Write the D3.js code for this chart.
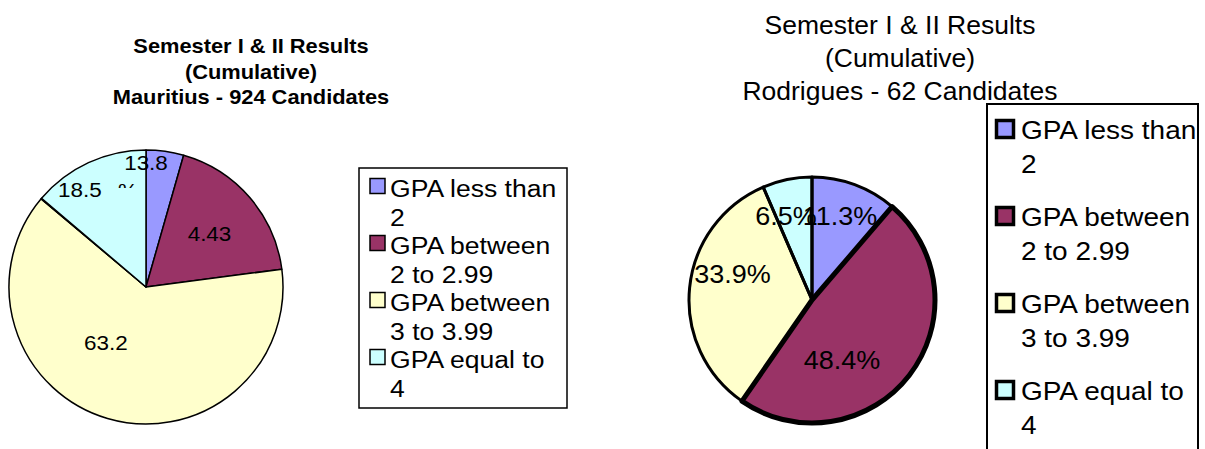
<!DOCTYPE html>
<html>
<head>
<meta charset="utf-8">
<script src="https://cdn.jsdelivr.net/npm/d3@7"></script>
<style>
  body { margin: 0; background: #fff; }
  text { font-family: "Liberation Sans", Arial, sans-serif; fill: #000; }
</style>
</head>
<body>
<div id="chart"></div>
<script>
  // Categories and colours (shared by both pies)
  const categories = ["GPA less than 2", "GPA between 2 to 2.99", "GPA between 3 to 3.99", "GPA equal to 4"];
  const legendLines = [["GPA less than", "2"], ["GPA between", "2 to 2.99"], ["GPA between", "3 to 3.99"], ["GPA equal to", "4"]];
  const catColors = ["#9999FF", "#993366", "#FFFFCC", "#CCFFFF"];

  // Mauritius: one tiny unnamed slice sits between the 3rd and 4th categories
  const mauritiusValues = [4.43, 18.5, 63.2, 0.07, 13.8];
  const mauritiusColors = ["#9999FF", "#993366", "#FFFFCC", "#999999", "#CCFFFF"];
  const mauritiusLabels = ["4.43", "18.5", "63.2", "", "13.8"];

  // Rodrigues
  const rodriguesValues = [11.3, 48.4, 33.9, 6.5];
  const rodriguesLabels = ["11.3%", "48.4%", "33.9%", "6.5%"];

  const leftTitle = ["Semester I & II Results", "(Cumulative)", "Mauritius - 924 Candidates"];
  const rightTitle = ["Semester I & II Results", "(Cumulative)", "Rodrigues - 62 Candidates"];

  // Label placement (angle in degrees, fraction of radius) - how the original file spread them
  const leftLabelSpots = [[49.9, 0.606], [325.9, 0.86], [215.8, 0.5], [0, 0], [0, 0.909]];
  const rightLabelSpots = [[18.4, 0.72], [153.4, 0.545], [288.1, 0.68], [342.8, 0.715]];

  const W = 1205, H = 449;
  const svg = d3.select("#chart").append("svg")
    .attr("width", W).attr("height", H);

  const pie = d3.pie().sort(null).value(d => d);

  function polar(cx, cy, r, deg) {
    const a = deg * Math.PI / 180;
    return [cx + r * Math.sin(a), cy - r * Math.cos(a)];
  }

  function stretchText(g, x, y, str, size, sx, anchor, weight) {
    return g.append("text")
      .attr("transform", `translate(${x},${y}) scale(${sx},1)`)
      .attr("text-anchor", anchor)
      .attr("font-size", size)
      .attr("font-weight", weight || "normal")
      .text(str);
  }

  // ---------- left pie (Mauritius) ----------
  const L = { cx: 146, cy: 287, r: 137 };
  const arcL = d3.arc().innerRadius(0).outerRadius(L.r);
  const gL = svg.append("g").attr("transform", `translate(${L.cx},${L.cy})`);
  const arcsL = pie(mauritiusValues);

  gL.selectAll("path.slice")
    .data(arcsL)
    .enter()
    .append("path")
    .attr("class", "slice")
    .attr("d", arcL)
    .attr("fill", (d, i) => mauritiusColors[i])
    .attr("stroke", "#000")
    .attr("stroke-width", 1.5)
    .attr("stroke-linejoin", "round");

  mauritiusLabels.forEach(function (t, i) {
    if (!t) return;
    const p = polar(L.cx, L.cy, L.r * leftLabelSpots[i][1], leftLabelSpots[i][0]);
    stretchText(svg, p[0], p[1] + 7.5, t, 21, 1.07, "middle");
  });

  // clipped second line of the top label
  svg.append("clipPath").attr("id", "pctClip")
    .append("rect").attr("x", 118).attr("y", 182).attr("width", 22).attr("height", 6);
  stretchText(svg.append("g").attr("clip-path", "url(#pctClip)"), 128, 198, "%", 21, 1.07, "middle");

  leftTitle.forEach(function (t, i) {
    stretchText(svg, 251, 53 + i * 25.5, t, 21, 1.04, "middle", "bold");
  });

  // left legend
  svg.append("rect")
    .attr("x", 359).attr("y", 168).attr("width", 208).attr("height", 240)
    .attr("fill", "#fff").attr("stroke", "#000").attr("stroke-width", 1.5);
  legendLines.forEach(function (lines, i) {
    const y0 = 197 + i * 57;
    svg.append("rect")
      .attr("x", 370).attr("y", y0 - 18.5).attr("width", 15).attr("height", 15)
      .attr("fill", catColors[i]).attr("stroke", "#000").attr("stroke-width", 1.5);
    stretchText(svg, 390, y0, lines[0], 23.5, 1.13, "start");
    stretchText(svg, 390, y0 + 28.5, lines[1], 23.5, 1.13, "start");
  });

  // ---------- right pie (Rodrigues) ----------
  const R = { cx: 812, cy: 300, r: 123 };
  const arcR = d3.arc().innerRadius(0).outerRadius(R.r);
  const gR = svg.append("g").attr("transform", `translate(${R.cx},${R.cy})`);
  const arcsR = pie(rodriguesValues);

  gR.selectAll("path.fill")
    .data(arcsR)
    .enter()
    .append("path")
    .attr("class", "fill")
    .attr("d", arcR)
    .attr("fill", (d, i) => catColors[i]);

  rodriguesLabels.forEach(function (t, i) {
    const p = polar(R.cx, R.cy, R.r * rightLabelSpots[i][1], rightLabelSpots[i][0]);
    stretchText(svg, p[0], p[1] + 9, t, 25, 1.08, "middle");
  });

  // outlines drawn on top of the labels (hides the dot of 6.5%)
  const gRo = svg.append("g").attr("transform", `translate(${R.cx},${R.cy})`);
  gRo.selectAll("path.edge")
    .data(arcsR)
    .enter()
    .append("path")
    .attr("class", "edge")
    .attr("d", arcR)
    .attr("fill", "none")
    .attr("stroke", "#000")
    .attr("stroke-width", 3)
    .attr("stroke-linejoin", "round");
  gRo.append("path")
    .attr("d", arcR(arcsR[1]))
    .attr("fill", "none")
    .attr("stroke", "#000")
    .attr("stroke-width", 5)
    .attr("stroke-linejoin", "round");

  rightTitle.forEach(function (t, i) {
    stretchText(svg, 900, 34 + i * 33, t, 25, 1.06, "middle");
  });

  // right legend (runs off the bottom edge)
  svg.append("rect")
    .attr("x", 987).attr("y", 104).attr("width", 211).attr("height", 360)
    .attr("fill", "#fff").attr("stroke", "#000").attr("stroke-width", 2);
  legendLines.forEach(function (lines, i) {
    const y0 = 139 + i * 87;
    svg.append("rect")
      .attr("x", 996.5).attr("y", y0 - 18.5).attr("width", 17).attr("height", 17)
      .attr("fill", catColors[i]).attr("stroke", "#000").attr("stroke-width", 3.5);
    stretchText(svg, 1021, y0, lines[0], 25, 1.12, "start");
    stretchText(svg, 1021, y0 + 33.5, lines[1], 25, 1.12, "start");
  });
</script>
</body>
</html>
